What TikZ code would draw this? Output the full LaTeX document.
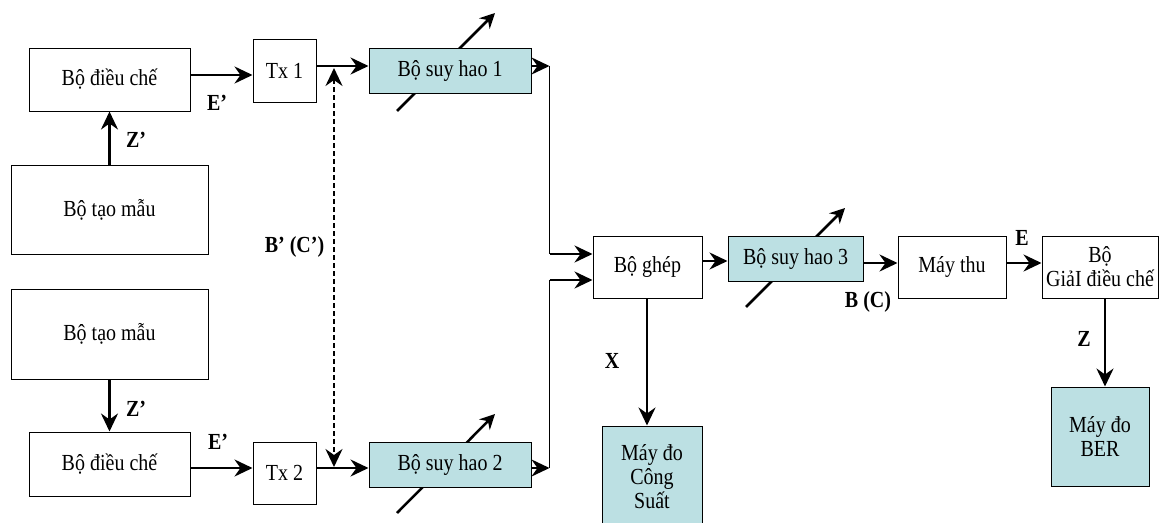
\documentclass[tikz,border=0pt]{standalone}
\usepackage{fontspec}
\setmainfont{Liberation Serif}
\usepackage{graphicx}
\usetikzlibrary{arrows.meta,backgrounds,calc}
\definecolor{attfill}{RGB}{188,224,227}
\newcommand\vs[1]{\scalebox{1}[1.15]{#1}}
\newcommand\boxfont{\fontsize{20}{24}\selectfont\lineskiplimit=-50pt\relax}
\tikzset{
  box/.style={draw,line width=1pt,inner sep=0pt,align=center,font=\boxfont},
  attbox/.style={box,fill=attfill},
  tipA/.tip={Stealth[length=18pt,width=17pt,inset=6pt]},
  arr/.style={line width=2.5pt,-tipA},
  thinl/.style={line width=1.5pt},
  dasharr/.style={line width=2.5pt,dash pattern=on 5pt off 3pt,tipA-tipA},
  diag/.style={line width=2.5pt,-{Stealth[length=15pt,width=15pt,inset=5pt]}},
  lbl/.style={inner sep=0pt,font=\bfseries\fontsize{20}{24}\selectfont}
}
\begin{document}
\begin{tikzpicture}[x=1pt,y=-1pt]
\clip (0,0) rectangle (1164,522);
\useasboundingbox (0,0) rectangle (1164,522);

% boxes
\node[box,minimum width=161pt,minimum height=63pt] (mod1) at (109.5,79.5) {\vs{Bộ điều chế}};
\node[box,minimum width=197pt,minimum height=89pt] (tao1) at (109.5,209.5) {\vs{Bộ tạo mẫu}};
\node[box,minimum width=197pt,minimum height=90pt] (tao2) at (109.5,334) {\vs{Bộ tạo mẫu}};
\node[box,minimum width=161pt,minimum height=64pt] (mod2) at (109.5,464) {\vs{Bộ điều chế}};
\node[box,minimum width=63pt,minimum height=63pt] (tx1) at (284.5,70.5) {\vs{Tx 1}};
\node[box,minimum width=63pt,minimum height=62pt] (tx2) at (284.5,473) {\vs{Tx 2}};
\node[attbox,minimum width=162pt,minimum height=45pt] (att1) at (450,70.5) {\vs{Bộ suy hao 1}};
\node[attbox,minimum width=162pt,minimum height=45pt] (att2) at (450,464.5) {\vs{Bộ suy hao 2}};
\node[box,minimum width=109pt,minimum height=62pt] (ghep) at (647.5,267) {\vs{Bộ ghép}};
\node[attbox,minimum width=135pt,minimum height=45pt] (att3) at (795.5,258.5) {\vs{Bộ suy hao 3}};
\node[box,minimum width=108pt,minimum height=62pt] (thu) at (952,267) {\vs{Máy thu}};
\node[box,minimum width=116pt,minimum height=62pt] (giai) at (1100,267) {\vs{Bộ}\\\vs{GiảI điều chế}};
\node[attbox,minimum width=98pt,minimum height=99pt] (ber) at (1100,436.5) {\vs{Máy đo}\\\vs{BER}};
\node[attbox,minimum width=100pt,minimum height=102pt] (cs) at (652,477) {\vs{Máy đo}\\\vs{Công}\\\vs{Suất}};

% variable attenuator symbols
\begin{scope}[on background layer]
\draw[diag] (397,111) -- (495,13);
\draw[diag] (397,513) -- (495,414);
\draw[diag] (746,307) -- (845,208);
\end{scope}

% connectors
\draw[arr] (tao1.north) -- (mod1.south);
\draw[arr] (tao2.south) -- (mod2.north);
\draw[arr] ([yshift=4.5pt]mod1.east) -- ([yshift=-4.5pt]tx1.west);
\draw[arr] ([yshift=-4pt]mod2.east) -- ([yshift=5pt]tx2.west);
\draw[arr] ([yshift=4.5pt]tx1.east) -- ([yshift=4.5pt]att1.west);
\draw[arr] ([yshift=5pt]tx2.east) -- ([yshift=-3.5pt]att2.west);

\coordinate (d1) at (334,68);
\coordinate (d2) at (334,467);
\draw[dasharr] (d1) -- (d2);

\coordinate (g1) at ([yshift=13pt]ghep.west);
\coordinate (g2) at ([yshift=-13pt]ghep.west);
\draw[arr] ([yshift=4.5pt]att1.east) -- ++(18,0) coordinate (j1);
\draw[thinl] (j1) -- (j1 |- g1);
\draw[arr] (j1 |- g1) -- (g1);
\draw[arr] ([yshift=-3.5pt]att2.east) -- ++(18,0) coordinate (j2);
\draw[thinl] (j2) -- (j2 |- g2);
\draw[arr] (j2 |- g2) -- (g2);

\draw[arr] ([yshift=6pt]ghep.east) -- ([yshift=-2.5pt]att3.west);
\draw[arr] ([yshift=-4.5pt]att3.east) -- ([yshift=4pt]thu.west);
\draw[arr] ([yshift=4pt]thu.east) -- ([yshift=4pt]giai.west);
\draw[arr] ([xshift=5pt]giai.south) -- ([xshift=5pt]ber.north);
\draw[arr] ([xshift=-0.5pt]ghep.south) -- ([xshift=-5pt]cs.north);

% labels
\node[lbl] (lE1) at (217,103) {\vs{E’}};
\node[lbl] (lE2) at (218,442) {\vs{E’}};
\node[lbl] (lZ1) at (136,140) {\vs{Z’}};
\node[lbl] (lZ2) at (136,409) {\vs{Z’}};
\node[lbl] (lB) at (294.5,247) {\vs{B’ (C’)}};
\node[lbl] (lX) at (612,361) {\vs{X}};
\node[lbl] (lBC) at (868,302) {\vs{B (C)}};
\node[lbl] (lE) at (1022,238) {\vs{E}};
\node[lbl] (lZ) at (1084,339) {\vs{Z}};
\end{tikzpicture}
\end{document}
